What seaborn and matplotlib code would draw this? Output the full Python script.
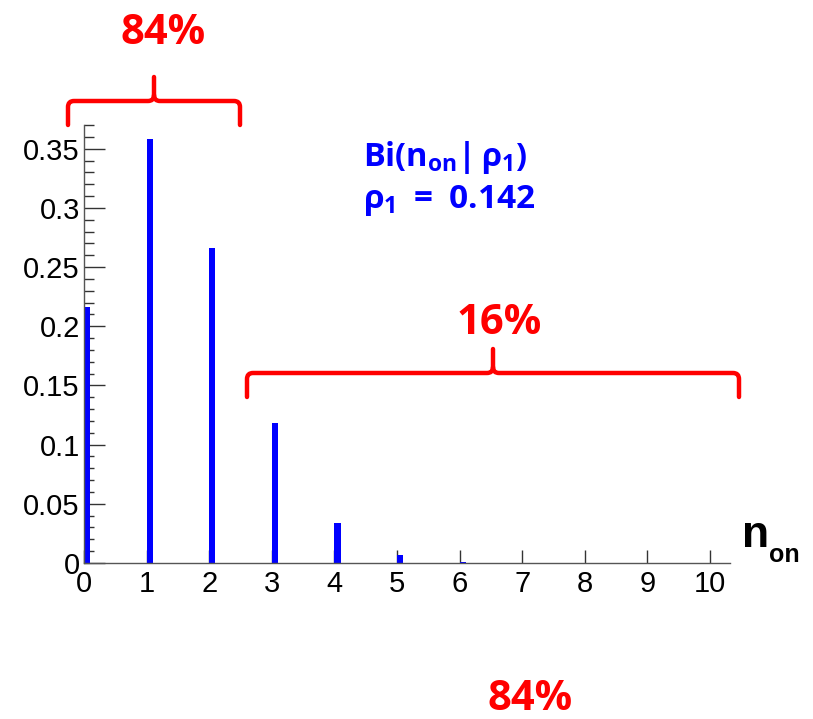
import matplotlib
matplotlib.use("Agg")
import matplotlib.pyplot as plt
import pandas as pd
import seaborn as sns
from matplotlib.path import Path
from matplotlib.patches import PathPatch
from matplotlib.ticker import MultipleLocator

# binomial probabilities
n_on = [0, 1, 2, 3, 4, 5, 6, 7, 8, 9, 10]
prob = [0.216, 0.358, 0.266, 0.118, 0.034, 0.0068, 0.0009, 0.0001, 0.0, 0.0, 0.0]
rho_1 = 0.142
share_low = "84%"
share_high = "16%"

W, H = 813, 719
BLUE = "#0000ff"
RED = "#ff0000"

sns.set_style("ticks")
plt.rcParams["font.family"] = ["Liberation Sans", "DejaVu Sans"]
plt.rcParams["text.color"] = "black"
plt.rcParams["xtick.color"] = "black"
plt.rcParams["ytick.color"] = "black"
plt.rcParams["mathtext.fontset"] = "custom"
plt.rcParams["mathtext.rm"] = "Open Sans:bold"
plt.rcParams["mathtext.it"] = "Open Sans:bold"
plt.rcParams["mathtext.bf"] = "Open Sans:bold"


def fx(x):
    return x / W


def fy(y):
    return 1 - y / H


fig = plt.figure(figsize=(W / 100, H / 100), dpi=100)
ax = fig.add_axes([fx(84), fy(563), (730 - 84) / W, (563 - 125) / H])

df = pd.DataFrame({"n_on": n_on, "prob": prob})
edges = [round(i * 0.1, 10) for i in range(104)]
sns.histplot(data=df, x="n_on", weights="prob", bins=edges, color=BLUE,
             alpha=1, linewidth=0, ax=ax)

ax.set_xlim(0, 10.32)
ax.set_ylim(0, 0.37)
ax.set_xlabel("")
ax.set_ylabel("")
sns.despine(ax=ax)
for s in ("left", "bottom"):
    ax.spines[s].set_color("#555555")
    ax.spines[s].set_linewidth(1.0)

ax.xaxis.set_major_locator(MultipleLocator(1))
ax.yaxis.set_minor_locator(MultipleLocator(0.01))
ax.set_yticks([0, 0.05, 0.1, 0.15, 0.2, 0.25, 0.3, 0.35])
ax.set_yticklabels(["0", "0.05", "0.1", "0.15", "0.2", "0.25", "0.3", "0.35"])
ax.tick_params(axis="y", which="major", direction="in", length=15, width=1,
               color="#333333", labelsize=21, pad=3)
ax.tick_params(axis="y", which="minor", direction="in", length=7.5, width=1,
               color="#333333")
ax.tick_params(axis="x", which="major", direction="in", length=9.5, width=1,
               color="#333333", labelsize=21, pad=5)

# axis title n_on
fig.text(fx(742), fy(547), "n", fontsize=32, fontweight="bold",
         ha="left", va="baseline")
fig.text(fx(769), fy(562), "on", fontsize=18, fontweight="bold",
         ha="left", va="baseline")

# legend-like text
fig.text(fx(363), fy(166), r"$\mathrm{Bi(n_{on}|\,\rho_1)}$", fontsize=23.5,
         color=BLUE, ha="left", va="baseline")
fig.text(fx(363), fy(208), r"$\mathrm{\rho_1\;=\;%.3f}$" % rho_1,
         fontsize=24, color=BLUE, ha="left", va="baseline")


def brace(x0, x1, ytop, yend, ytip):
    xm = (x0 + x1) / 2
    r = 6
    verts = [(x0, yend), (x0, ytop + r), (x0, ytop), (x0 + r, ytop),
             (xm - r, ytop), (xm, ytop), (xm, ytop - r), (xm, ytip),
             (xm, ytop - r), (xm, ytop), (xm + r, ytop),
             (x1 - r, ytop), (x1, ytop), (x1, ytop + r), (x1, yend)]
    codes = [Path.MOVETO, Path.LINETO, Path.CURVE3, Path.CURVE3,
             Path.LINETO, Path.CURVE3, Path.CURVE3, Path.LINETO,
             Path.MOVETO, Path.CURVE3, Path.CURVE3,
             Path.LINETO, Path.CURVE3, Path.CURVE3, Path.LINETO]
    verts = [(fx(a), fy(b)) for a, b in verts]
    fig.add_artist(PathPatch(Path(verts, codes), transform=fig.transFigure,
                             fill=False, edgecolor=RED, linewidth=3.2,
                             capstyle="round", joinstyle="round"))


brace(68, 240, 101, 125, 77)
brace(247, 739, 373, 397, 349)

red_font = dict(fontsize=30, fontweight="bold", color=RED, family="Open Sans",
                ha="center", va="baseline")
fig.text(fx(163), fy(44), share_low, **red_font)
fig.text(fx(499), fy(334), share_high, **red_font)
fig.text(fx(530), fy(710), share_low, **red_font)

fig.savefig("out.png", dpi=100)
